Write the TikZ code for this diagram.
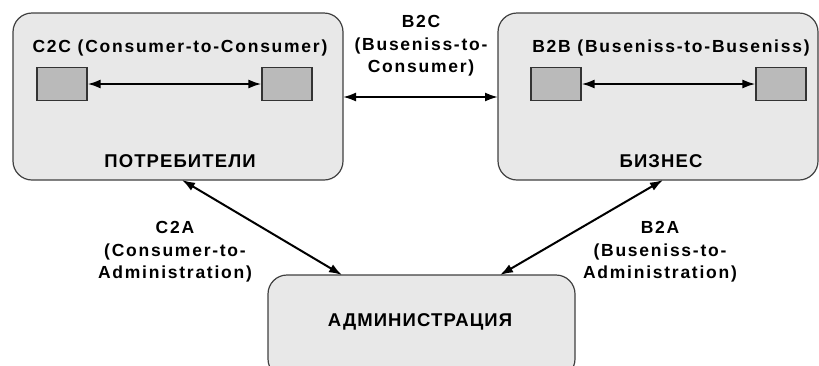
\documentclass[tikz,border=0pt]{standalone}
\usepackage{fontspec}
\setmainfont{Liberation Sans}
\usetikzlibrary{arrows.meta}
\begin{document}
\begin{tikzpicture}[x=1pt,y=-1pt,
  panel/.style={draw=black!75,line width=1.2pt,fill=black!9,rounded corners=19pt},
  party/.style={draw=black!80,line width=1.2pt,fill=black!27,minimum width=50pt,minimum height=33pt,inner sep=0pt},
  lbl/.style={font=\addfontfeatures{LetterSpace=10}\bfseries\fontsize{17.5}{22.5}\selectfont,align=center,inner sep=0pt},
  caps/.style={lbl,font=\addfontfeatures{LetterSpace=6}\bfseries\fontsize{18.5}{22.5}\selectfont},
  link/.style={line width=2pt,{Latex[length=13pt,width=9pt]}-{Latex[length=13pt,width=9pt]}}]
\useasboundingbox (0,0) rectangle (819,365);
% three parties
\draw[panel] (13,13) rectangle (343,180);
\draw[panel] (498,13) rectangle (818,180);
\draw[panel] (268,275) rectangle (575,378);
% attachment points of the links on the panel borders
\coordinate (consB) at (182,180);
\coordinate (busB) at (663,180);
\coordinate (admL) at (342,275);
\coordinate (admR) at (500,275);
\coordinate (consR) at (343,97);
\coordinate (busL) at (498,97);
% titles
\node[lbl] (t1) at (180,48) {C2C (Consumer-to-Consumer)};
\node[caps] (t2) at (180,161) {ПОТРЕБИТЕЛИ};
\node[lbl] (t3) at (671,48) {B2B (Buseniss-to-Buseniss)};
\node[caps] (t4) at (661,161) {БИЗНЕС};
\node[caps] (t5) at (420,322) {АДМИНИСТРАЦИЯ};
% participants inside panels
\node[party] (c1) at (62,84) {};
\node[party] (c2) at (287,84) {};
\node[party] (b1) at (556,84) {};
\node[party] (b2) at (781,84) {};
\draw[link] (c1) -- (c2);
\draw[link] (b1) -- (b2);
% links between parties
\draw[link] (consR) -- (busL);
\draw[link] (consB) -- (admL);
\draw[link] (busB) -- (admR);
\node[lbl] (l1) at (421,46) {B2C\\(Buseniss-to-\\Consumer)};
\node[lbl] (l2) at (175,252) {C2A\\(Consumer-to-\\Administration)};
\node[lbl] (l3) at (660,252) {B2A\\(Buseniss-to-\\Administration)};
\end{tikzpicture}
\end{document}
